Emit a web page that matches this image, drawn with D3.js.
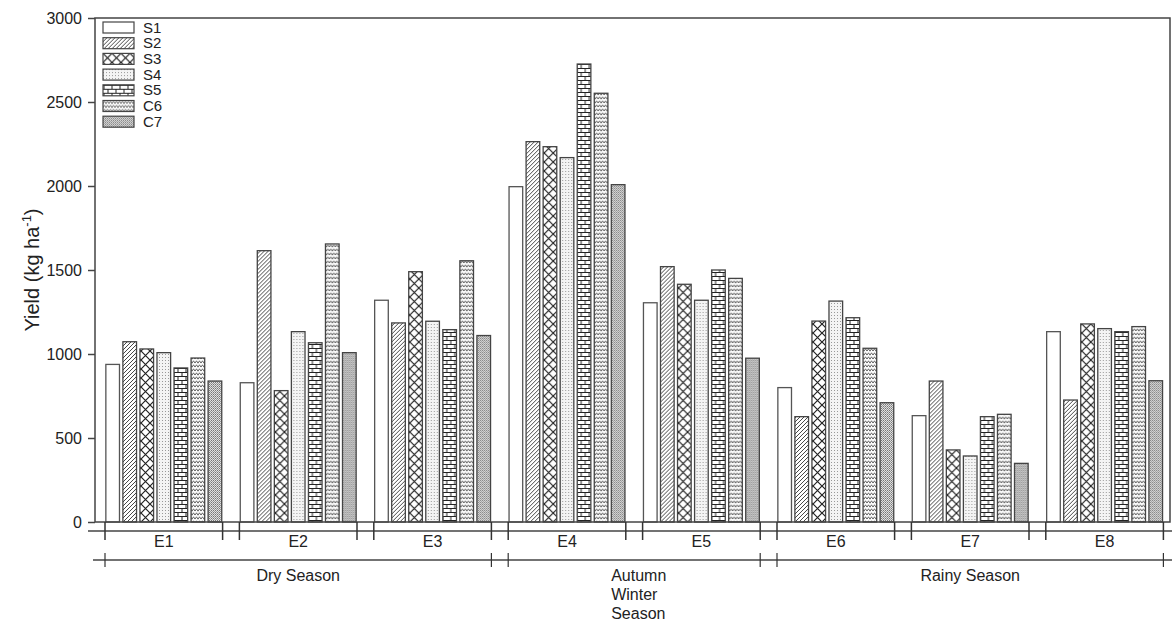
<!DOCTYPE html>
<html>
<head>
<meta charset="utf-8">
<script src="https://cdn.jsdelivr.net/npm/d3@7"></script>
<style>
	body { margin: 0; background: #fff; }
	text { font-family: "Liberation Sans", Arial, sans-serif; fill: #222; }
</style>
</head>
<body>
<div id="chart"></div>
<script>

///////////////////////////////////////////////////////////////////////////
//////////////////////////////// Data /////////////////////////////////////
///////////////////////////////////////////////////////////////////////////

var environments = ["E1", "E2", "E3", "E4", "E5", "E6", "E7", "E8"];
var series = ["S1", "S2", "S3", "S4", "S5", "C6", "C7"];

var S1 = [938, 829, 1320, 1996, 1305, 800, 633, 1133];
var S2 = [1073, 1615, 1185, 2264, 1520, 627, 839, 726];
var S3 = [1030, 782, 1490, 2234, 1415, 1196, 429, 1179];
var S4 = [1008, 1133, 1195, 2169, 1320, 1315, 393, 1151];
var S5 = [917, 1067, 1145, 2726, 1500, 1216, 627, 1133];
var C6 = [976, 1655, 1555, 2552, 1450, 1034, 641, 1163];
var C7 = [839, 1008, 1110, 2008, 975, 710, 349, 841];

var seasonNames = [["Dry Season"], ["Autumn", "Winter", "Season"], ["Rainy Season"]];
var seasonEnvs = [["E1", "E2", "E3"], ["E4", "E5"], ["E6", "E7", "E8"]];

var yTicks = [0, 500, 1000, 1500, 2000, 2500, 3000];

var values = { S1: S1, S2: S2, S3: S3, S4: S4, S5: S5, C6: C6, C7: C7 };

///////////////////////////////////////////////////////////////////////////
/////////////////////////////// Set-up SVG ////////////////////////////////
///////////////////////////////////////////////////////////////////////////

var width = 1172;
var height = 621;
var frame = { left: 95, right: 1170, top: 18, bottom: 522 };

var svg = d3.select("#chart")
	.append("svg")
	.attr("width", width)
	.attr("height", height);

var x0 = d3.scaleBand()
	.domain(environments)
	.range([105, 1163.4])
	.paddingInner(0.125)
	.paddingOuter(0);

var x1 = d3.scaleBand()
	.domain(series)
	.range([0, x0.bandwidth()])
	.paddingInner(0.2)
	.paddingOuter(0.05);

var y = d3.scaleLinear()
	.domain([0, 3000])
	.range([frame.bottom, frame.top]);

///////////////////////////////////////////////////////////////////////////
/////////////////////////////// Patterns //////////////////////////////////
///////////////////////////////////////////////////////////////////////////

var defs = svg.append("defs");

function pattern(id, w, h) {
	return defs.append("pattern")
		.attr("id", id)
		.attr("patternUnits", "userSpaceOnUse")
		.attr("width", w)
		.attr("height", h);
}

//S1 - empty
pattern("p-S1", 4, 4).append("rect").attr("width", 4).attr("height", 4).attr("fill", "#fff");

//S2 - diagonal hatch
var p2 = pattern("p-S2", 4, 4);
p2.append("rect").attr("width", 4).attr("height", 4).attr("fill", "#fff");
p2.append("path")
	.attr("d", "M-1,1 L1,-1 M0,4 L4,0 M3,5 L5,3")
	.attr("stroke", "#333").attr("stroke-width", 0.9);

//S3 - cross hatch (diamonds)
var p3 = pattern("p-S3", 9, 9);
p3.append("rect").attr("width", 9).attr("height", 9).attr("fill", "#fff");
p3.append("path")
	.attr("d", "M0,0 L9,9 M9,0 L0,9")
	.attr("stroke", "#222").attr("stroke-width", 1.2);

//S4 - fine dots
var p4 = pattern("p-S4", 3, 3);
p4.append("rect").attr("width", 3).attr("height", 3).attr("fill", "#f4f4f4");
p4.append("rect").attr("width", 1).attr("height", 1).attr("fill", "#999");

//S5 - bricks
var p5 = pattern("p-S5", 8, 8);
p5.append("rect").attr("width", 8).attr("height", 8).attr("fill", "#fff");
p5.append("path")
	.attr("d", "M0,0.5 H8 M0,4.5 H8 M1,0.5 V4.5 M5,4.5 V8.5")
	.attr("stroke", "#222").attr("stroke-width", 1);

//C6 - waves
var p6 = pattern("p-C6", 6, 4);
p6.append("rect").attr("width", 6).attr("height", 4).attr("fill", "#fff");
p6.append("path")
	.attr("d", "M0,3.2 L1.5,0.8 L3,3.2 L4.5,0.8 L6,3.2")
	.attr("fill", "none")
	.attr("stroke", "#555").attr("stroke-width", 0.9);

//C7 - dense grey
var p7 = pattern("p-C7", 2, 2);
p7.append("rect").attr("width", 2).attr("height", 2).attr("fill", "#e0e0e0");
p7.append("rect").attr("width", 1).attr("height", 1).attr("fill", "#777");
p7.append("rect").attr("x", 1).attr("y", 1).attr("width", 1).attr("height", 1).attr("fill", "#999");

///////////////////////////////////////////////////////////////////////////
//////////////////////////////// Bars /////////////////////////////////////
///////////////////////////////////////////////////////////////////////////

var groups = svg.selectAll(".env")
	.data(environments)
	.enter().append("g")
	.attr("class", "env")
	.attr("transform", function(d) { return "translate(" + x0(d) + ",0)"; });

groups.selectAll("rect")
	.data(function(d, i) { return series.map(function(s) { return { s: s, v: values[s][i] }; }); })
	.enter().append("rect")
	.attr("x", function(d) { return x1(d.s); })
	.attr("y", function(d) { return y(d.v); })
	.attr("width", x1.bandwidth())
	.attr("height", function(d) { return y(0) - y(d.v); })
	.attr("fill", function(d) { return "url(#p-" + d.s + ")"; })
	.attr("stroke", function(d) { return d.s === "S1" ? "#555" : "#444"; })
	.attr("stroke-width", 1.3);

///////////////////////////////////////////////////////////////////////////
//////////////////////////////// Frame ////////////////////////////////////
///////////////////////////////////////////////////////////////////////////

svg.append("rect")
	.attr("x", frame.left)
	.attr("y", frame.top)
	.attr("width", frame.right - frame.left)
	.attr("height", frame.bottom - frame.top)
	.attr("fill", "none")
	.attr("stroke", "#444")
	.attr("stroke-width", 1.5);

//Y axis
var yAxis = svg.append("g")
	.attr("transform", "translate(" + frame.left + ",0)")
	.call(d3.axisLeft(y).tickValues(yTicks).tickFormat(d3.format("d"))
		.tickSize(7).tickPadding(6).tickSizeOuter(0));
yAxis.select(".domain").remove();
yAxis.selectAll("line").attr("stroke", "#444").attr("stroke-width", 1.5);
yAxis.selectAll("text")
	.attr("font-family", null)
	.style("font-family", "'Liberation Sans', Arial, sans-serif")
	.style("font-size", "16px")
	.style("fill", "#222");

svg.append("text")
	.attr("transform", "translate(39," + ((frame.top + frame.bottom) / 2) + ") rotate(-90)")
	.attr("text-anchor", "middle")
	.style("font-size", "20px")
	.html("Yield (kg ha<tspan dy='-8' font-size='13px'>-1</tspan><tspan dy='8'>)</tspan>");

///////////////////////////////////////////////////////////////////////////
////////////////////////// Category axes //////////////////////////////////
///////////////////////////////////////////////////////////////////////////

var envY = 531;
var seasonY = 560;

svg.append("line")
	.attr("x1", 88).attr("x2", 1172)
	.attr("y1", envY).attr("y2", envY)
	.attr("stroke", "#444").attr("stroke-width", 1.5);

environments.forEach(function(e) {
	[x0(e), x0(e) + x0.bandwidth()].forEach(function(xx) {
		svg.append("line")
			.attr("x1", xx).attr("x2", xx)
			.attr("y1", frame.bottom).attr("y2", 540)
			.attr("stroke", "#333").attr("stroke-width", 1.5);
	});
	svg.append("text")
		.attr("x", x0(e) + x0.bandwidth() / 2)
		.attr("y", 547)
		.attr("text-anchor", "middle")
		.style("font-size", "16px")
		.text(e);
});

svg.append("line")
	.attr("x1", 93).attr("x2", 1172)
	.attr("y1", seasonY).attr("y2", seasonY)
	.attr("stroke", "#444").attr("stroke-width", 1.5);

seasonEnvs.forEach(function(envs, i) {
	var a = x0(envs[0]);
	var b = x0(envs[envs.length - 1]) + x0.bandwidth();
	[a, b].forEach(function(xx) {
		svg.append("line")
			.attr("x1", xx).attr("x2", xx)
			.attr("y1", 553).attr("y2", 567)
			.attr("stroke", "#333").attr("stroke-width", 1.2);
	});
	var t = svg.append("text")
		.attr("x", (a + b) / 2)
		.attr("y", 581)
		.attr("text-anchor", i === 1 ? "start" : "middle")
		.style("font-size", "16px");
	var lx = i === 1 ? (a + b) / 2 - 23 : (a + b) / 2;
	seasonNames[i].forEach(function(line, j) {
		t.append("tspan")
			.attr("x", lx)
			.attr("dy", j === 0 ? 0 : 19)
			.text(line);
	});
});

///////////////////////////////////////////////////////////////////////////
/////////////////////////////// Legend ////////////////////////////////////
///////////////////////////////////////////////////////////////////////////

var legend = svg.selectAll(".legend")
	.data(series)
	.enter().append("g")
	.attr("class", "legend")
	.attr("transform", function(d, i) { return "translate(103," + (22 + i * 15.7) + ")"; });

legend.append("rect")
	.attr("width", 31)
	.attr("height", 11)
	.attr("fill", function(d) { return "url(#p-" + d + ")"; })
	.attr("stroke", "#444")
	.attr("stroke-width", 1.2);

legend.append("text")
	.attr("x", 40)
	.attr("y", 10.5)
	.style("font-size", "15px")
	.text(function(d) { return d; });

</script>
</body>
</html>
